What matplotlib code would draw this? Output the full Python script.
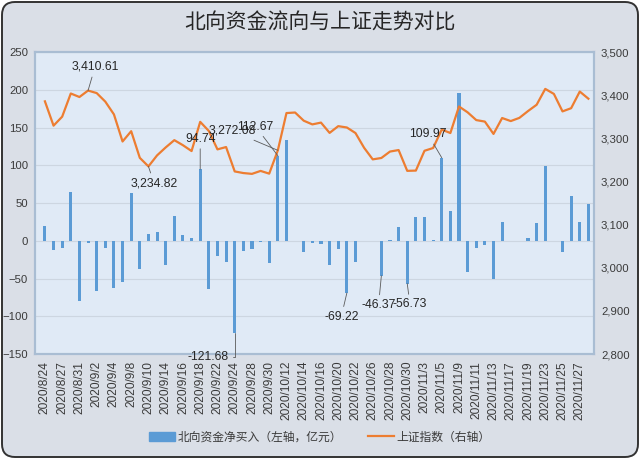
import matplotlib.pyplot as plt
from matplotlib.patches import FancyBboxPatch, Patch
from matplotlib.lines import Line2D
from matplotlib.ticker import FuncFormatter

# ----------------------------------
# Data
# ----------------------------------

dates = ['2020/8/24', '2020/8/26', '2020/8/27', '2020/8/28', '2020/8/31', '2020/9/1', '2020/9/2',
         '2020/9/3', '2020/9/4', '2020/9/7', '2020/9/8', '2020/9/9', '2020/9/10', '2020/9/11',
         '2020/9/14', '2020/9/15', '2020/9/16', '2020/9/17', '2020/9/18', '2020/9/21', '2020/9/22',
         '2020/9/23', '2020/9/24', '2020/9/25', '2020/9/28', '2020/9/29', '2020/9/30', '2020/10/9',
         '2020/10/12', '2020/10/13', '2020/10/14', '2020/10/15', '2020/10/16', '2020/10/19',
         '2020/10/20', '2020/10/21', '2020/10/22', '2020/10/23', '2020/10/26', '2020/10/27',
         '2020/10/28', '2020/10/29', '2020/10/30', '2020/11/2', '2020/11/3', '2020/11/4',
         '2020/11/5', '2020/11/6', '2020/11/9', '2020/11/10', '2020/11/11', '2020/11/12',
         '2020/11/13', '2020/11/16', '2020/11/17', '2020/11/18', '2020/11/19', '2020/11/20',
         '2020/11/23', '2020/11/24', '2020/11/25', '2020/11/26', '2020/11/27', '2020/11/30']

# 北向资金净买入 (亿元), left axis
north_flow = [20, -12, -10, 64, -80, -3.5, -66, -10, -63, -54,
              63, -38, 9, 12, -32, 33, 7.5, 3.5, 94.74, -64,
              -20, -28, -121.68, -14, -11, -1.3, -29.5, 112.67, 134, 0,
              -15, -3.5, -4.4, -32, -11.5, -69.22, -28, 0, 0, -46.37,
              1.3, 17.6, -56.73, 31, 31, 1, 109.97, 39.6, 196, -42,
              -9.7, -5.3, -50.7, 25, 0, -0.8, 3.5, 23.3, 99, -0.5,
              -15.4, 59.5, 24.2, 48.5]

# 上证指数, right axis
sh_index = [3385.64, 3329.26, 3350.11, 3403.81, 3395.68, 3410.61, 3404.80, 3384.98, 3355.37, 3292.59,
            3316.42, 3254.63, 3234.82, 3260.35, 3278.81, 3295.68, 3283.92, 3270.44, 3338.09, 3316.94,
            3274.30, 3279.71, 3223.18, 3219.42, 3217.53, 3224.36, 3218.05, 3272.08, 3358.47, 3359.75,
            3340.79, 3332.18, 3336.36, 3312.50, 3328.10, 3325.03, 3312.16, 3278.00, 3251.12, 3254.32,
            3269.24, 3272.74, 3224.53, 3225.12, 3271.07, 3277.44, 3320.13, 3312.16, 3373.73, 3360.15,
            3342.20, 3338.68, 3310.10, 3346.97, 3339.90, 3347.30, 3363.09, 3377.73, 3414.49, 3402.82,
            3362.33, 3369.73, 3408.31, 3391.76]

# indices of the points carrying a data label
bar_labels = [18, 22, 27, 35, 39, 42, 46]
line_labels = [5, 12, 27]

# ----------------------------------
# Style
# ----------------------------------

BG = '#dadfe7'
PLOT_BG = '#e0eaf6'
BAR_C = '#5b9bd5'
LINE_C = '#ed7d31'
TXT = '#3a3a3a'
CJK = ['Noto Sans CJK SC']

plt.rcParams['font.family'] = ['Liberation Sans', 'DejaVu Sans', 'Noto Sans CJK SC']

fig = plt.figure(figsize=(6.4, 4.59), dpi=100, facecolor='white')

# rounded outer frame
frame = FancyBboxPatch((0.02, 0.02), 6.36, 4.55, boxstyle='round,pad=0,rounding_size=0.13',
                       transform=fig.dpi_scale_trans, fc=BG, ec='#333333', lw=1.4, zorder=-5)
fig.add_artist(frame)

ax = fig.add_axes([35 / 640, 1 - 354 / 459, 559 / 640, 302 / 459])
ax.set_facecolor(PLOT_BG)
ax2 = ax.twinx()

x = list(range(len(dates)))

# Plot ----------------------------------------
ax.bar(x, north_flow, width=0.36, color=BAR_C, zorder=3)
ax2.plot(x, sh_index, color=LINE_C, lw=1.6, zorder=4)

ax.set_xlim(-1.15, 63.65)
ax.set_ylim(-150, 250)
ax.set_yticks(range(-150, 251, 50))
ax2.set_ylim(2800, 3500)
ax2.set_yticks(range(2800, 3501, 100))
ax2.yaxis.set_major_formatter(FuncFormatter(lambda v, p: f'{v:,.0f}'))

ax.set_xticks(x[::2])
ax.set_xticklabels(dates[::2], rotation=90, fontsize=8.6, color=TXT)
ax.grid(axis='y', color='#cdd6e1', lw=0.8, zorder=0)

for a in (ax, ax2):
    a.tick_params(length=0, labelcolor=TXT)
    a.tick_params(axis='y', labelsize=8.2)
    for s in a.spines.values():
        s.set_color('#a9bdd3')
        s.set_linewidth(1.5)
ax.tick_params(axis='y', pad=5)
ax2.tick_params(axis='y', pad=5)
ax.tick_params(axis='x', pad=5)

# Annotate ----------------------------------------
lead = dict(arrowstyle='-', color='#5a5a5a', lw=0.6, shrinkA=1, shrinkB=0)
bar_offsets = {18: (0, 22), 22: (-19, -17.5), 27: (-16, 21), 35: (-4, -17),
               39: (-2, -21), 42: (2, -15), 46: (-10, 17)}
line_offsets = {5: (5, 17), 12: (4, -12), 27: (-33, 14)}

for i in bar_labels:
    arrow = dict(lead)
    if i == 22:
        arrow['connectionstyle'] = 'angle,angleA=0,angleB=90,rad=0'
    ax2.annotate(f'{north_flow[i]:,.2f}', xy=(i, north_flow[i]), xycoords=ax.transData,
                 xytext=bar_offsets[i], textcoords='offset points', ha='center', va='center',
                 fontsize=8.8, color='#262626', arrowprops=arrow, zorder=6)
for i in line_labels:
    ax2.annotate(f'{sh_index[i]:,.2f}', xy=(i, sh_index[i]),
                 xytext=line_offsets[i], textcoords='offset points', ha='center', va='center',
                 fontsize=8.8, color='#262626', arrowprops=lead, zorder=6)

fig.text(0.5, 1 - 23 / 459, '北向资金流向与上证走势对比', ha='center', va='center',
         fontsize=15, color='#262626', family=CJK, weight='light')

handles = [Patch(color=BAR_C), Line2D([], [], color=LINE_C, lw=1.6)]
fig.legend(handles, ['北向资金净买入（左轴，亿元）', '上证指数（右轴）'], loc='center',
           bbox_to_anchor=(0.5, 1 - 437 / 459), ncol=2, frameon=False,
           handlelength=2.2, handletextpad=0.2, columnspacing=2.2, labelcolor=TXT,
           prop={'family': CJK, 'size': 8.5})

fig.savefig('out.png', dpi=100, facecolor=fig.get_facecolor())
